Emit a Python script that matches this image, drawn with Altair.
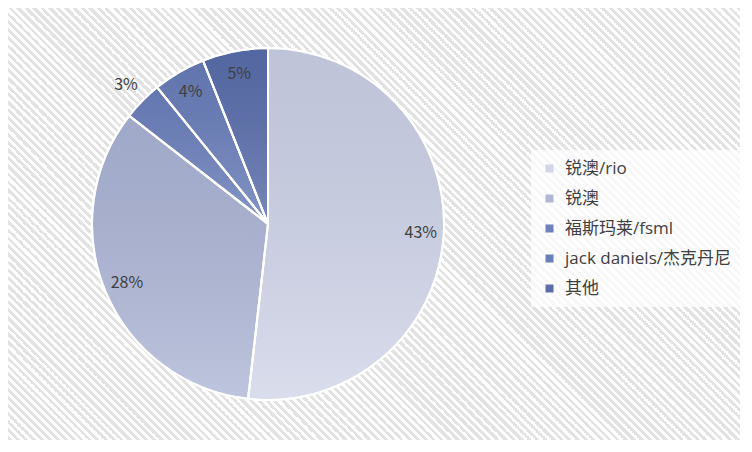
import altair as alt
import pandas as pd

# data
brands = ["锐澳/rio", "锐澳", "福斯玛莱/fsml", "jack daniels/杰克丹尼", "其他"]
shares = [43, 28, 3, 4, 5]
colors = ["#d2d6e8", "#b0b8d6", "#6d81bb", "#6a7eb8", "#5a6ea9"]

FONT = "Noto Sans CJK SC"
LEGEND_FONT = "'Open Sans', 'Noto Sans CJK SC'"
W, H = 732, 432
CX, CY, R = 260, 216, 176

df = pd.DataFrame({"brand": brands, "share": shares, "idx": range(len(brands))})
df["label"] = df["share"].astype(str) + "%"

# diagonal hatch behind everything: a square rect with a hard-stop linear gradient
side = W + 4
period = 8 / 2**0.5
n = int(side * 2**0.5 / period)
stops = []
for k in range(n):
    a, b, c = k / n, (k + 0.5) / n, (k + 1) / n
    stops += [
        alt.GradientStop(offset=a, color="#e2e2e2"),
        alt.GradientStop(offset=b, color="#e2e2e2"),
        alt.GradientStop(offset=b, color="#ffffff"),
        alt.GradientStop(offset=c, color="#ffffff"),
    ]
hatch = alt.Gradient(gradient="linear", stops=stops, x1=0, y1=1, x2=1, y2=0)

bg = (
    alt.Chart(pd.DataFrame({"a": [0]}))
    .mark_rect(clip=True, color=hatch)
    .encode(x=alt.value(0), x2=alt.value(side), y=alt.value(0), y2=alt.value(side))
)

base = (
    alt.Chart(df)
    .transform_stack(
        stack="share", as_=["s0", "s1"], groupby=[], sort=[alt.SortField("idx")]
    )
    .transform_calculate(mid="(datum.s0 + datum.s1) / 2")
)
theta_scale = alt.Scale(domain=[0, sum(shares)])

pie = base.mark_arc(outerRadius=R, stroke="white", strokeWidth=2).encode(
    x=alt.value(CX),
    y=alt.value(CY),
    theta=alt.Theta("s0:Q", scale=theta_scale, stack=None),
    theta2="s1:Q",
    color=alt.Color(
        "brand:N",
        scale=alt.Scale(domain=brands, range=colors),
        sort=brands,
        legend=alt.Legend(
            title=None,
            orient="none",
            legendX=523,
            legendY=142,
            symbolType="square",
            symbolSize=64,
            symbolStrokeWidth=0,
            labelFont=LEGEND_FONT,
            labelFontSize=17,
            labelColor="#404040",
            labelOffset=7,
            labelLimit=300,
            rowPadding=12,
            padding=10,
            fillColor="rgba(255,255,255,0.72)",
        ),
    ),
)

# per-slice vertical shading, darker at the top
shade_fill = alt.Gradient(
    gradient="linear",
    stops=[
        alt.GradientStop(offset=0, color="rgba(20,35,80,0.10)"),
        alt.GradientStop(offset=1, color="rgba(255,255,255,0.18)"),
    ],
    x1=0, y1=0, x2=0, y2=1,
)
shade = base.mark_arc(
    outerRadius=R, stroke="white", strokeWidth=2, fill=shade_fill
).encode(
    x=alt.value(CX),
    y=alt.value(CY),
    theta=alt.Theta("s0:Q", scale=theta_scale, stack=None),
    theta2="s1:Q",
)

text_style = dict(font=FONT, fontSize=16, color="#404040")
inner = (
    base.transform_filter("datum.share >= 4")
    .mark_text(radius=153, **text_style)
    .encode(
        x=alt.value(CX),
        y=alt.value(CY),
        theta=alt.Theta("mid:Q", scale=theta_scale, stack=None),
        text="label:N",
    )
)
outer = (
    base.transform_filter("datum.share < 4")
    .mark_text(radius=199, **text_style)
    .encode(
        x=alt.value(CX),
        y=alt.value(CY),
        theta=alt.Theta("mid:Q", scale=theta_scale, stack=None),
        text="label:N",
    )
)

chart = (
    alt.layer(bg, pie, shade, inner, outer)
    .properties(width=W, height=H, autosize="none", padding=0, background="white")
    .configure_view(stroke="#d9d9d9", strokeWidth=1)
)

chart.save("out.html", embed_options={"renderer": "svg", "actions": False})
